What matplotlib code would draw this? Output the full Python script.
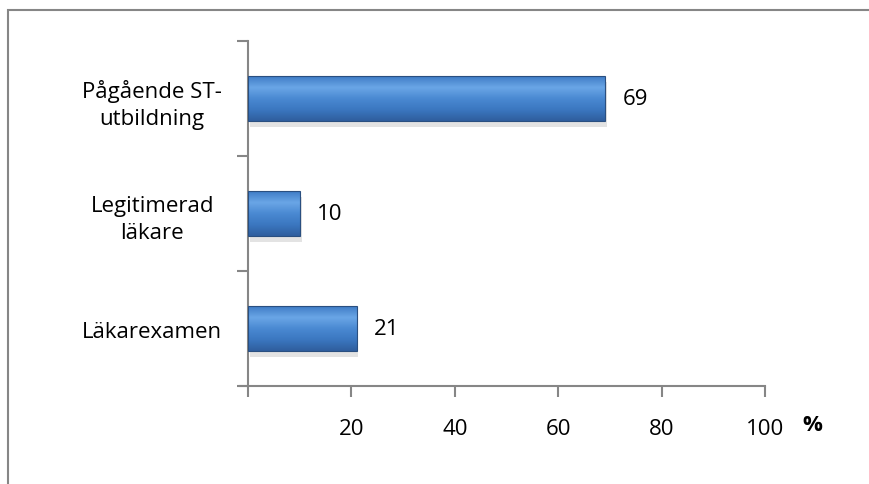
import numpy as np
import matplotlib.pyplot as plt
from matplotlib.patches import Rectangle
from matplotlib.colors import LinearSegmentedColormap

categories = ['Läkarexamen', 'Legitimerad\nläkare', 'Pågående ST-\nutbildning']
values = [21, 10, 69]
xticks = [0, 20, 40, 60, 80, 100]
xticklabels = ['', '20', '40', '60', '80', '100']

plt.rcParams['font.family'] = ['Open Sans', 'DejaVu Sans']
fs = 16

fig = plt.figure(figsize=(8.69, 4.85), dpi=100)
fig.patches.append(Rectangle((8 / 869, -0.1), 1.2, 1 - 11 / 485 + 0.1, transform=fig.transFigure,
                             fill=False, edgecolor='#868686', linewidth=1.5))

ax = fig.add_axes([248 / 869, 1 - 387 / 485, 517 / 869, 345 / 485])

y = np.arange(len(categories))
bar_h = 0.39
bars = ax.barh(y, values, height=bar_h, color='none', edgecolor='none', zorder=3)

# gradient fill for each bar, plus a soft shadow
cmap = LinearSegmentedColormap.from_list('blu', ['#2f5e9e', '#3b77c0', '#4a89d2', '#6aa6e6', '#3f7cc6'])
grad = np.linspace(0, 1, 100).reshape(-1, 1)
for b in bars:
    x0, y0 = b.get_x(), b.get_y()
    w, h = b.get_width(), b.get_height()
    ax.add_patch(Rectangle((x0 + 0.35, y0 - 0.05), w, h, facecolor='#c8c8c8', alpha=0.5,
                           edgecolor='none', zorder=2))
    ax.imshow(grad, cmap=cmap, extent=(x0, x0 + w, y0, y0 + h), aspect='auto',
              origin='lower', zorder=3, interpolation='bicubic')
    ax.add_patch(Rectangle((x0, y0), w, h, fill=False, edgecolor='#2a4f80', linewidth=0.8, zorder=4))
    ax.text(x0 + w + 3.4, y0 + h / 2, str(int(w)), va='center', ha='left', fontsize=fs, color='black')

ax.set_xlim(0, 100)
ax.set_ylim(-0.5, len(categories) - 0.5)

ax.set_xticks(xticks)
ax.set_xticklabels(xticklabels, fontsize=fs)
ax.set_yticks(np.arange(-0.5, len(categories), 1.0))
ax.set_yticklabels([])
ax.set_yticks(y, minor=True)
ax.set_yticklabels(categories, minor=True, fontsize=fs, ha='center', linespacing=1.35)
ax.tick_params(axis='y', which='minor', length=0, pad=69)
ax.tick_params(axis='y', which='major', length=8, width=1.5, color='#868686', direction='out')
ax.tick_params(axis='x', length=8, width=1.5, color='#868686', direction='out', pad=15)

for s in ['top', 'right']:
    ax.spines[s].set_visible(False)
for s in ['left', 'bottom']:
    ax.spines[s].set_color('#868686')
    ax.spines[s].set_linewidth(1.5)
ax.spines['bottom'].set_bounds(-1.6, 100)

fig.text(812 / 869, 1 - 426 / 485, '%', fontsize=fs, fontweight='bold', ha='center', va='center')

fig.savefig('out.png', dpi=100)
